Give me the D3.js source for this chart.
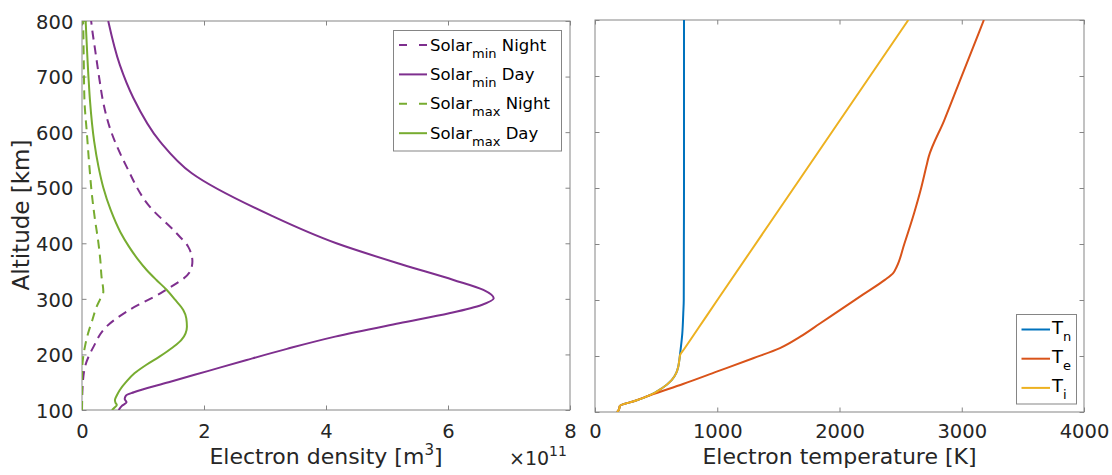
<!DOCTYPE html>
<html>
<head>
<meta charset="utf-8">
<script src="https://cdn.jsdelivr.net/npm/d3@7"></script>
<style>
  html, body { margin: 0; padding: 0; background: #ffffff; }
  svg { display: block; font-family: "DejaVu Sans", sans-serif; }
</style>
</head>
<body>
<svg id="chart" width="1112" height="475"></svg>
<script>
// Electron density profiles (units of 1e11), altitude in km
const minNightAlt = [100, 142, 178, 214, 250, 277, 313, 349, 367, 394, 418, 466, 538, 610, 658, 692, 752, 782, 800];
const minNightNe  = [0.0, 0.01, 0.05, 0.19, 0.40, 0.73, 1.33, 1.77, 1.81, 1.74, 1.55, 1.11, 0.73, 0.45, 0.34, 0.29, 0.21, 0.17, 0.15];

const minDayAlt = [100, 108, 114, 120, 126, 132, 150, 170, 190, 210, 232, 256, 274, 289, 301, 316, 334, 361, 400, 451, 526, 583, 662, 721, 800];
const minDayNe  = [0.60, 0.66, 0.73, 0.70, 0.72, 0.85, 1.42, 2.06, 2.70, 3.36, 4.15, 5.20, 6.02, 6.55, 6.75, 6.58, 6.09, 5.27, 4.17, 3.08, 1.80, 1.28, 0.84, 0.62, 0.43];

const maxNightAlt = [100, 150, 178, 196, 215, 238, 262, 286, 300, 313, 340, 370, 400, 445, 490, 540, 598, 658, 720, 800];
const maxNightNe  = [0.0, 0.0, 0.005, 0.02, 0.05, 0.10, 0.17, 0.24, 0.30, 0.35, 0.32, 0.30, 0.27, 0.21, 0.16, 0.12, 0.08, 0.04, 0.03, 0.02];

const maxDayAlt = [100, 104, 109, 113, 118, 126, 136, 150, 166, 181, 196, 212, 226, 250, 265, 280, 298, 316, 334, 352, 372, 394, 420, 460, 500, 538, 583, 658, 692, 800];
const maxDayNe  = [0.49, 0.53, 0.57, 0.55, 0.54, 0.57, 0.62, 0.72, 0.86, 1.05, 1.27, 1.48, 1.63, 1.72, 1.71, 1.66, 1.53, 1.39, 1.22, 1.06, 0.91, 0.77, 0.63, 0.47, 0.35, 0.27, 0.20, 0.13, 0.11, 0.06];

// Temperature profiles (K)
const tnAlt = [100, 104, 111, 120, 130, 142, 157, 170, 181, 193, 202, 240, 276, 300, 400, 500, 600, 700, 800];
const tnT   = [182, 195, 204, 330, 450, 545, 627, 665, 681, 690, 695, 714, 722, 726, 727, 728, 728, 728, 728];

const teAlt = [100, 104, 111, 120, 130, 150, 172, 196, 214, 234, 258, 282, 310, 336, 348, 359, 400, 455, 500, 540, 556, 620, 699, 800];
const teT   = [182, 195, 204, 330, 450, 720, 995, 1294, 1513, 1676, 1840, 2003, 2194, 2371, 2439, 2467, 2530, 2610, 2668, 2712, 2730, 2855, 2998, 3181];

const tiAlt = [100, 104, 111, 120, 130, 142, 157, 170, 181, 193, 202, 212, 250, 300, 437, 609, 800];
const tiT   = [182, 195, 204, 330, 450, 545, 627, 665, 681, 690, 697, 728, 846, 1001, 1429, 1966, 2563];

// Axis ticks
const densityTicks = [0, 2, 4, 6, 8];
const tempTicks = [0, 1000, 2000, 3000, 4000];
const altTicks = [100, 200, 300, 400, 500, 600, 700, 800];

const densitySeries = [
  { name: "min", tod: "Night", alt: minNightAlt, v: minNightNe, color: "#7E2F8E", dashed: true },
  { name: "min", tod: "Day",   alt: minDayAlt,   v: minDayNe,   color: "#7E2F8E", dashed: false },
  { name: "max", tod: "Night", alt: maxNightAlt, v: maxNightNe, color: "#77AC30", dashed: true },
  { name: "max", tod: "Day",   alt: maxDayAlt,   v: maxDayNe,   color: "#77AC30", dashed: false }
];
const tempSeries = [
  { sub: "n", alt: tnAlt, v: tnT, color: "#0072BD" },
  { sub: "e", alt: teAlt, v: teT, color: "#D95319" },
  { sub: "i", alt: tiAlt, v: tiT, color: "#EDB120" }
];

const TEXT = "#262626";
const AXIS = "#858585";

const svg = d3.select("#chart");

const xL = d3.scaleLinear().domain([0, 8]).range([82, 570]);
const yL = d3.scaleLinear().domain([100, 800]).range([410, 21]);
const xR = d3.scaleLinear().domain([0, 4000]).range([595, 1084]);
const yR = d3.scaleLinear().domain([100, 800]).range([412, 20]);

function panel(x, y, xTicks, yLabels, id) {
  const [x0, x1] = x.range();
  const [y0, y1] = y.range();
  const g = svg.append("g");

  svg.append("clipPath").attr("id", id)
    .append("rect").attr("x", x0).attr("y", y1).attr("width", x1 - x0).attr("height", y0 - y1);

  // bottom axis with inward ticks
  const bottom = g.append("g").attr("transform", `translate(0,${y0})`)
    .call(d3.axisBottom(x).tickValues(xTicks).tickSizeInner(-4.5).tickSizeOuter(0).tickPadding(0)
      .tickFormat(d3.format("d")));
  bottom.selectAll("text").attr("y", 437.5 - y0).attr("dy", null)
    .attr("font-size", "19.5px").attr("fill", TEXT).attr("font-family", "DejaVu Sans");
  // top mirror ticks
  g.append("g").attr("transform", `translate(0,${y1})`)
    .call(d3.axisTop(x).tickValues(xTicks).tickSizeInner(-4.5).tickSizeOuter(0).tickFormat(""));

  const left = g.append("g").attr("transform", `translate(${x0},0)`)
    .call(d3.axisLeft(y).tickValues(altTicks).tickSizeInner(-4.5).tickSizeOuter(0).tickPadding(8.7)
      .tickFormat(yLabels ? d3.format("d") : ""));
  left.selectAll("text").attr("dy", "0.37em")
    .attr("font-size", "19.5px").attr("fill", TEXT).attr("font-family", "DejaVu Sans");
  g.append("g").attr("transform", `translate(${x1},0)`)
    .call(d3.axisRight(y).tickValues(altTicks).tickSizeInner(-4.5).tickSizeOuter(0).tickFormat(""));

  g.selectAll(".domain").remove();
  g.selectAll(".tick line").attr("stroke", AXIS).attr("stroke-width", 1);

  g.append("rect").attr("x", x0).attr("y", y1).attr("width", x1 - x0).attr("height", y0 - y1)
    .attr("fill", "none").attr("stroke", AXIS).attr("stroke-width", 1);
  return g;
}

panel(xL, yL, densityTicks, true, "clipL");
panel(xR, yR, tempTicks, false, "clipR");

// density curves
const line = d3.line().curve(d3.curveMonotoneY);
const gL = svg.append("g").attr("clip-path", "url(#clipL)");
densitySeries.forEach(s => {
  const pts = s.alt.map((a, i) => [xL(s.v[i]), yL(a)]);
  gL.append("path").attr("d", line(pts))
    .attr("fill", "none").attr("stroke", s.color).attr("stroke-width", 2)
    .attr("stroke-dasharray", s.dashed ? "9,6" : null);
});

// temperature curves
const gR = svg.append("g").attr("clip-path", "url(#clipR)");
tempSeries.forEach(s => {
  const pts = s.alt.map((a, i) => [xR(s.v[i]), yR(a)]);
  gR.append("path").attr("d", line(pts))
    .attr("fill", "none").attr("stroke", s.color).attr("stroke-width", 2);
});

// axis titles
svg.append("text").attr("transform", "translate(29,215) rotate(-90)")
  .attr("text-anchor", "middle").attr("font-size", "23px").attr("fill", TEXT)
  .text("Altitude [km]");

const dl = svg.append("text").attr("x", 326).attr("y", 464)
  .attr("text-anchor", "middle").attr("font-size", "22px").attr("fill", TEXT);
dl.append("tspan").text("Electron density [m");
dl.append("tspan").attr("font-size", "15px").attr("dy", -9).text("3");
dl.append("tspan").attr("dy", 9).text("]");

const ex = svg.append("text").attr("x", 509).attr("y", 465)
  .attr("font-size", "19px").attr("fill", TEXT);
ex.append("tspan").text("\u00d710");
ex.append("tspan").attr("font-size", "14px").attr("dy", -9).text("11");

svg.append("text").attr("x", (595 + 1084) / 2).attr("y", 464)
  .attr("text-anchor", "middle").attr("font-size", "22px").attr("fill", TEXT)
  .text("Electron temperature [K]");

// legend: density
const legL = svg.append("g");
legL.append("rect").attr("x", 393.5).attr("y", 30.5).attr("width", 168).attr("height", 120.5)
  .attr("fill", "#fff").attr("stroke", AXIS).attr("stroke-width", 1);
densitySeries.forEach((s, i) => {
  const ly = 45 + i * 29.4;
  legL.append("line").attr("x1", 399).attr("x2", 427).attr("y1", ly).attr("y2", ly)
    .attr("stroke", s.color).attr("stroke-width", 2)
    .attr("stroke-dasharray", s.dashed ? "8,12" : null);
  const t = legL.append("text").attr("x", 430).attr("y", ly + 5.5)
    .attr("font-size", "16.5px").attr("fill", "#000");
  t.append("tspan").text("Solar");
  t.append("tspan").attr("font-size", "13px").attr("dy", 7).text(s.name);
  t.append("tspan").attr("dy", -7).text(" " + s.tod);
});

// legend: temperature
const legR = svg.append("g");
legR.append("rect").attr("x", 1016.5).attr("y", 314.5).attr("width", 60).attr("height", 89.5)
  .attr("fill", "#fff").attr("stroke", AXIS).attr("stroke-width", 1);
tempSeries.forEach((s, i) => {
  const ly = 329.5 + i * 29.2;
  legR.append("line").attr("x1", 1021.5).attr("x2", 1050).attr("y1", ly).attr("y2", ly)
    .attr("stroke", s.color).attr("stroke-width", 2);
  const t = legR.append("text").attr("x", 1052).attr("y", ly + 4)
    .attr("font-size", "18px").attr("fill", "#000");
  t.append("tspan").text("T");
  t.append("tspan").attr("font-size", "13px").attr("dy", 7).text(s.sub);
});
</script>
</body>
</html>
